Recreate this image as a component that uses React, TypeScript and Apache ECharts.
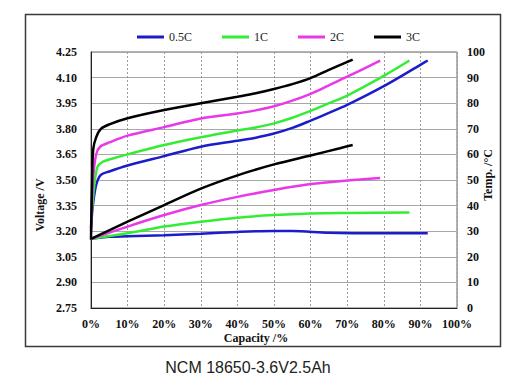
import React, { useEffect, useRef } from "react";
import * as echarts from "echarts";

const seriesNames = ["0.5C", "1C", "2C", "3C"];
const colors = ["#1c1cc8", "#35ec35", "#e838e8", "#000000"];

const xTicks = [0, 10, 20, 30, 40, 50, 60, 70, 80, 90, 100];

// Voltage (V) vs capacity (%)
const volt05: number[][] = [[0, 3.22], [0.5, 3.35], [1.4, 3.47], [2.7, 3.53], [5, 3.55], [10, 3.585], [20, 3.64], [30, 3.695], [40, 3.73], [45, 3.748], [50, 3.772], [55, 3.805], [60, 3.848], [65, 3.893], [70, 3.94], [80, 4.05], [90, 4.175], [92, 4.2]];
const volt1: number[][] = [[0, 3.25], [0.9, 3.47], [1.8, 3.578], [3.2, 3.607], [5, 3.62], [10, 3.65], [20, 3.705], [30, 3.75], [40, 3.79], [45, 3.808], [50, 3.832], [55, 3.865], [60, 3.905], [65, 3.95], [70, 3.995], [80, 4.11], [87, 4.2]];
const volt2: number[][] = [[0, 3.2], [0.5, 3.49], [1.4, 3.65], [2.5, 3.695], [5, 3.72], [10, 3.76], [20, 3.81], [30, 3.86], [40, 3.89], [45, 3.908], [50, 3.932], [55, 3.965], [60, 4.005], [65, 4.055], [70, 4.105], [79, 4.2]];
const volt3: number[][] = [[0, 3.15], [0.3, 3.5], [0.6, 3.68], [1.4, 3.75], [2.7, 3.8], [5, 3.826], [10, 3.862], [20, 3.91], [30, 3.95], [40, 3.988], [45, 4.008], [50, 4.033], [55, 4.062], [60, 4.097], [65, 4.145], [71.5, 4.205]];

// Temperature (°C) vs capacity (%)
const temp05: number[][] = [[0, 27], [5, 27.8], [10, 28], [20, 28.4], [30, 29], [40, 29.7], [50, 30.1], [55, 30.1], [65, 29.4], [80, 29.2], [92, 29.2]];
const temp1: number[][] = [[0, 27], [10, 29.2], [20, 31.8], [30, 33.7], [40, 35.3], [50, 36.3], [60, 36.9], [70, 37.1], [87, 37.3]];
const temp2: number[][] = [[0, 27], [10, 31.8], [20, 36.3], [30, 40.2], [40, 43.4], [50, 46.1], [60, 48.4], [70, 49.8], [79, 50.8]];
const temp3: number[][] = [[0, 27], [10, 33.7], [20, 40.2], [30, 46.6], [40, 51.8], [50, 56.1], [60, 59.6], [68, 62.4], [71.5, 63.7]];

const voltData = [volt05, volt1, volt2, volt3];
const tempData = [temp05, temp1, temp2, temp3];

const serif = "Liberation Serif";

export default function App() {
  const ref = useRef<HTMLDivElement>(null);
  useEffect(() => {
    if (!ref.current) return;
    const chart = echarts.init(ref.current, null, { renderer: "svg" });
    const mkSeries = (data: number[][], i: number, yIdx: number) => ({
      name: seriesNames[i],
      type: "line",
      yAxisIndex: yIdx,
      data,
      showSymbol: false,
      smooth: 0.3,
      lineStyle: { color: colors[i], width: 2.5 },
      itemStyle: { color: colors[i] },
      z: 3,
    });
    const series: any[] = [];
    voltData.forEach((d, i) => series.push(mkSeries(d, i, 0)));
    tempData.forEach((d, i) => series.push(mkSeries(d, i, 1)));

    chart.setOption({
      animation: false,
      backgroundColor: "#ffffff",
      legend: {
        data: seriesNames,
        left: 132,
        top: 26,
        icon: "rect",
        itemWidth: 27,
        itemHeight: 3,
        itemGap: 30,
        textStyle: { fontFamily: serif, fontSize: 12, color: "#222" },
      },
      grid: {
        left: 91,
        right: 74,
        top: 52,
        bottom: 70,
        show: true,
        borderColor: "#666",
        borderWidth: 1,
      },
      xAxis: {
        type: "value",
        min: xTicks[0],
        max: xTicks[xTicks.length - 1],
        interval: 10,
        axisLine: { show: true, lineStyle: { color: "#222", width: 1 } },
        axisTick: { show: false },
        axisLabel: {
          formatter: "{value}%",
          fontFamily: serif,
          fontWeight: "bold",
          fontSize: 12,
          color: "#111",
          margin: 10,
        },
        splitLine: { show: true, lineStyle: { color: "#9a9a9a", type: [2, 2], width: 1 } },
      },
      yAxis: [
        {
          type: "value",
          min: 2.75,
          max: 4.25,
          interval: 0.15,
          axisLine: { show: true, lineStyle: { color: "#222", width: 1 } },
          axisTick: { show: false },
          axisLabel: {
            formatter: (v: number) => v.toFixed(2),
            fontFamily: serif,
            fontWeight: "bold",
            fontSize: 12,
            color: "#111",
            margin: 14,
          },
          splitLine: { show: true, lineStyle: { color: "#a8a8a8", width: 1 } },
        },
        {
          type: "value",
          min: 0,
          max: 100,
          interval: 10,
          position: "right",
          axisLine: { show: false },
          axisTick: { show: false },
          axisLabel: {
            fontFamily: serif,
            fontWeight: "bold",
            fontSize: 12,
            color: "#111",
            margin: 10,
          },
          splitLine: { show: false },
        },
      ],
      graphic: [
        {
          type: "rect",
          shape: { x: 25.5, y: 14.5, width: 475, height: 332 },
          style: { fill: "none", stroke: "#3a3a3a", lineWidth: 1.5 },
          z: 0,
          silent: true,
        },
        {
          type: "text",
          x: 256,
          y: 338,
          style: {
            text: "Capacity /%",
            fontFamily: serif,
            fontWeight: "bold",
            fontSize: 12,
            fill: "#111",
            textAlign: "center",
            textVerticalAlign: "middle",
          },
        },
        {
          type: "text",
          x: 40,
          y: 205,
          rotation: Math.PI / 2,
          style: {
            text: "Voltage /V",
            fontFamily: serif,
            fontWeight: "bold",
            fontSize: 12,
            fill: "#111",
            textAlign: "center",
            textVerticalAlign: "middle",
          },
        },
        {
          type: "text",
          x: 488,
          y: 175,
          rotation: Math.PI / 2,
          style: {
            text: "Temp. /°C",
            fontFamily: serif,
            fontWeight: "bold",
            fontSize: 12,
            fill: "#111",
            textAlign: "center",
            textVerticalAlign: "middle",
          },
        },
        {
          type: "text",
          x: 248,
          y: 367,
          style: {
            text: "NCM 18650-3.6V2.5Ah",
            fontFamily: "Liberation Sans",
            fontSize: 16,
            fill: "#222",
            textAlign: "center",
            textVerticalAlign: "middle",
          },
        },
      ],
      series,
    });
    return () => chart.dispose();
  }, []);
  return (
    <div
      ref={ref}
      style={{ position: "fixed", left: 0, top: 0, width: 531, height: 378 }}
    />
  );
}
